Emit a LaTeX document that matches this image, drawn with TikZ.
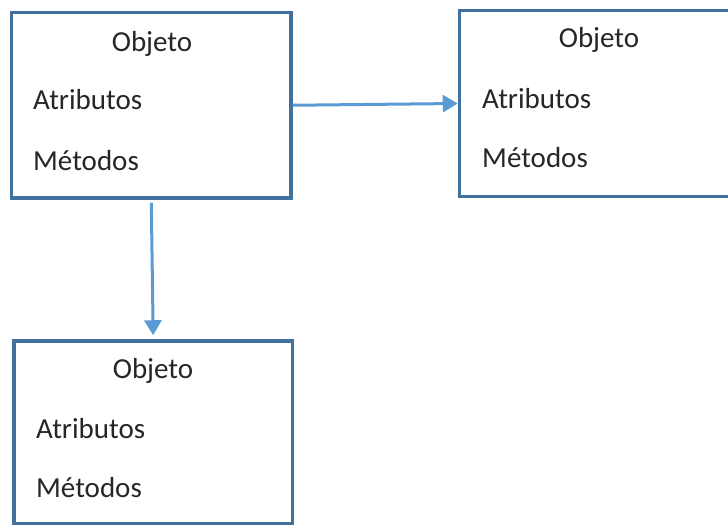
\documentclass[tikz,border=0pt]{standalone}
\usepackage{fontspec}
\setmainfont{Carlito}
\usetikzlibrary{arrows.meta}
\definecolor{boxblue}{HTML}{41719C}
\definecolor{arrblue}{HTML}{5B9BD5}
\begin{document}
\begin{tikzpicture}[x=1pt,y=-1pt,
  objbox/.style={draw=boxblue,line width=3.5pt,rectangle,inner sep=0pt},
  lbl/.style={font=\fontsize{29}{34}\selectfont,text=black!85,inner sep=0pt},
  conn/.style={draw=arrblue,line width=3pt,-{Triangle[length=15pt,width=17pt]}}]
\useasboundingbox (0,0) rectangle (728,527);
\clip (0,0) rectangle (728,527);
% boxes
\node[objbox,minimum width=279.5pt,minimum height=185.5pt] (b1) at (151.25,105.25) {};
\node[objbox,minimum width=300pt,minimum height=186pt] (b2) at (609.5,103.5) {};
\node[objbox,minimum width=278.5pt,minimum height=182.5pt] (b3) at (153.25,432.25) {};
% texts box 1
\node[lbl,anchor=base] (t1o) at (152,52) {Objeto};
\node[lbl,anchor=base west] (t1a) at (33,110) {Atributos};
\node[lbl,anchor=base west] (t1m) at (33,170) {Métodos};
% texts box 2
\node[lbl,anchor=base] (t2o) at (599,48) {Objeto};
\node[lbl,anchor=base west] (t2a) at (482,108) {Atributos};
\node[lbl,anchor=base west] (t2m) at (482,167) {Métodos};
% texts box 3
\node[lbl,anchor=base] (t3o) at (153,378) {Objeto};
\node[lbl,anchor=base west] (t3a) at (36,438) {Atributos};
\node[lbl,anchor=base west] (t3m) at (36,497) {Métodos};
% connectors
\draw[conn] (b1.east) -- (b2.west);
\draw[conn,shorten <=3pt,shorten >=4pt] (b1.south) -- (b3.north);
\end{tikzpicture}
\end{document}
